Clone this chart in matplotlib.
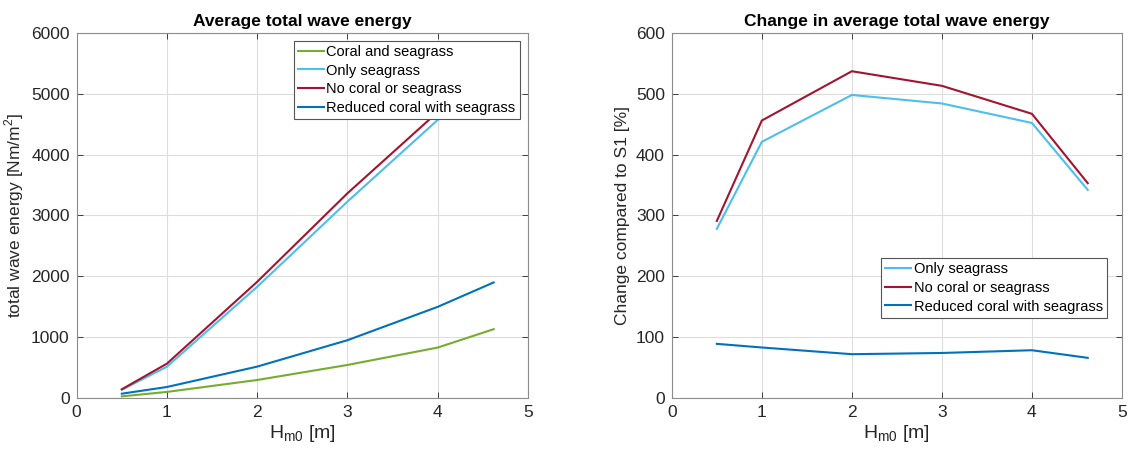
import matplotlib
matplotlib.use('Agg')
import matplotlib.pyplot as plt

plt.rcParams['font.family'] = ['Liberation Sans', 'DejaVu Sans']
plt.rcParams['mathtext.fontset'] = 'custom'
plt.rcParams['mathtext.rm'] = 'Liberation Sans'

# ======================== data ========================
hm0 = [0.5, 1, 2, 3, 4, 4.62]

# average total wave energy [Nm/m2]
coral_seagrass = [27, 100, 296, 543, 829, 1131]
only_seagrass = [135, 515, 1828, 3227, 4570, 5000]
no_coral = [143, 565, 1910, 3364, 4700, 5125]
reduced_coral = [71, 181, 516, 950, 1498, 1899]

# change compared to S1 [%]
chg_only_seagrass = [278, 421, 498, 484, 452, 342]
chg_no_coral = [291, 456, 537, 513, 467, 353]
chg_reduced_coral = [89, 83, 72, 74, 78.5, 66]

labels = ['Coral and seagrass', 'Only seagrass', 'No coral or seagrass', 'Reduced coral with seagrass']
colors = ['#77AC30', '#4DBEEE', '#A2142F', '#0072BD']

# ======================== plotting ========================
fig = plt.figure(figsize=(11.31, 4.53), dpi=100)
ax1 = fig.add_axes([0.0678, 0.1214, 0.399, 0.806])
ax2 = fig.add_axes([0.594, 0.1214, 0.398, 0.806])


def style_axes(ax):
    ax.set_xlim(0, 5)
    ax.grid(True, color='#dddddd', lw=0.8)
    ax.set_axisbelow(True)
    ax.tick_params(direction='in', top=True, right=True, labelsize=12.5,
                   colors='#262626', length=4, width=0.6, pad=5)
    for s in ax.spines.values():
        s.set_color('#8c8c8c')
        s.set_linewidth(0.8)
    ax.set_xlabel('H$_{\\mathrm{m0}}$ [m]', fontsize=14, color='#262626', labelpad=2)


def add_legend(ax, anchor):
    leg = ax.legend(loc='upper right', bbox_to_anchor=anchor, fontsize=10.5,
                    fancybox=False, edgecolor='#555555', framealpha=1,
                    handlelength=1.8, handletextpad=0.15, borderpad=0.3,
                    labelspacing=0.32, borderaxespad=0)
    leg.get_frame().set_linewidth(0.8)
    return leg


ax1.plot(hm0, coral_seagrass, color=colors[0], lw=1.5, label=labels[0])
ax1.plot(hm0, only_seagrass, color=colors[1], lw=1.5, label=labels[1])
ax1.plot(hm0, no_coral, color=colors[2], lw=1.5, label=labels[2])
ax1.plot(hm0, reduced_coral, color=colors[3], lw=1.5, label=labels[3])
style_axes(ax1)
ax1.set_ylim(0, 6000)
ax1.set_yticks(range(0, 6001, 1000))
ax1.set_ylabel('total wave energy [Nm/m$^2$]', fontsize=12.5, color='#262626')
ax1.set_title('Average total wave energy', fontsize=12.5, fontweight='bold', pad=5)
add_legend(ax1, (0.982, 0.979))

ax2.plot(hm0, chg_only_seagrass, color=colors[1], lw=1.5, label=labels[1])
ax2.plot(hm0, chg_no_coral, color=colors[2], lw=1.5, label=labels[2])
ax2.plot(hm0, chg_reduced_coral, color=colors[3], lw=1.5, label=labels[3])
style_axes(ax2)
ax2.set_ylim(0, 600)
ax2.set_yticks(range(0, 601, 100))
ax2.set_ylabel('Change compared to S1 [%]', fontsize=12.5, color='#262626')
ax2.set_title('Change in average total wave energy', fontsize=12.5, fontweight='bold', pad=5)
add_legend(ax2, (0.967, 0.384))

fig.savefig('out.png', dpi=100)
